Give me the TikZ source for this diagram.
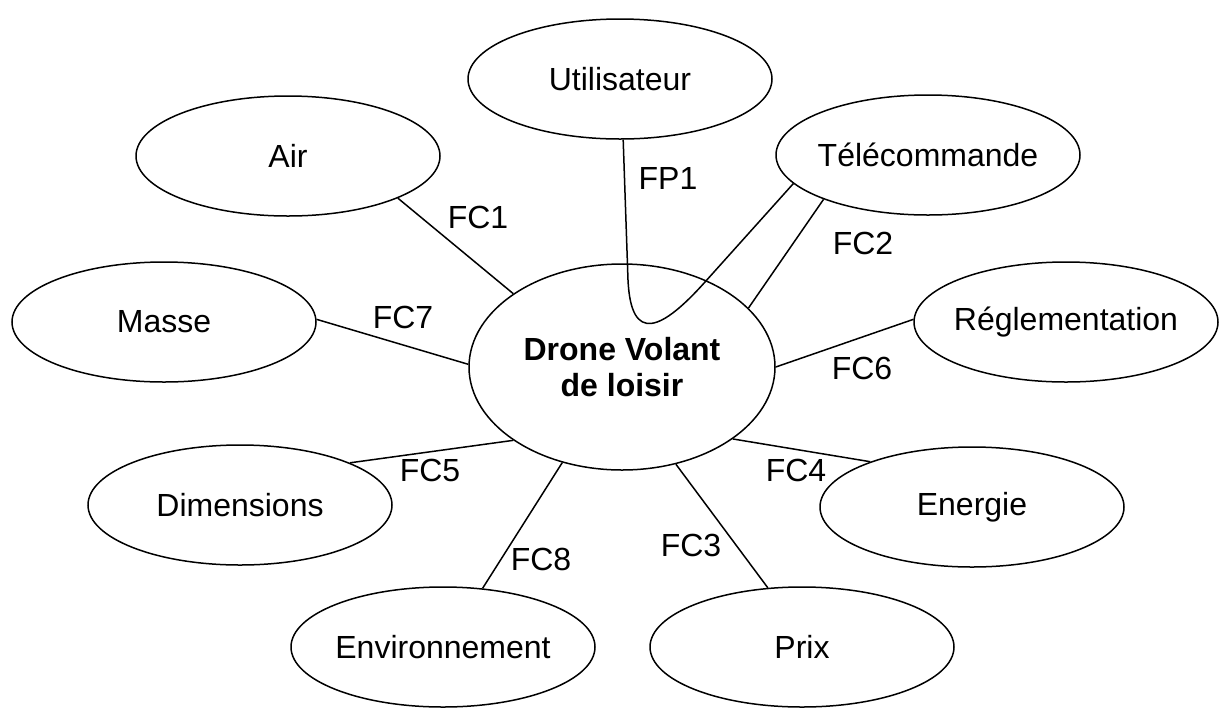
\documentclass[tikz,border=0pt]{standalone}
\usepackage{fontspec}
\setmainfont{Liberation Sans}
\usepackage{tikz}
\usetikzlibrary{shapes.geometric}
\colorlet{bubble edge}{black}
\tikzset{bubble/.style={ellipse, draw=bubble edge, line width=0.75pt, minimum width=152pt, minimum height=60pt,
		inner xsep=-10pt, inner ysep=0pt, font=\fontsize{16}{18}\selectfont},
	core/.style={bubble, minimum width=153pt, minimum height=103pt, align=center,
		font=\bfseries\fontsize{16}{18}\selectfont},
	link/.style={draw=bubble edge, line width=0.75pt},
	fclabel/.style={inner sep=0pt, font=\fontsize{16}{18}\selectfont}}

\begin{document}
\begin{tikzpicture}[x=0.5pt,y=-0.5pt]
		\useasboundingbox (0,0) rectangle (1221,713);
		\node[core] (drone) at (622,367) {Drone Volant\\de loisir};
		
		\node[bubble] (util) at (620,79) {Utilisateur};
		\node[bubble] (air) at (288,156) {Air};
		\node[bubble] (tele) at (928,155) {Télécommande};
		\node[bubble] (masse) at (164,322) {Masse};
		\node[bubble] (regl) at (1066,322) {Réglementation};
		\node[bubble] (dim) at (240,505) {Dimensions};
		\node[bubble] (energie) at (972,507) {Energie};
		\node[bubble] (env) at (443,647) {Environnement};
		\node[bubble] (prix) at (802,647) {Prix};
		
		\draw[link] (util.-87) -- (628,280) .. controls (631,345) and (662,330) .. (705,282) -- (tele.192);
		\draw[link] (air.-21) -- (drone.146);
		\draw[link] (tele.203) -- (drone.25);
		\draw[link] (prix.120) -- (drone.-61);
		\draw[link] (energie.156) -- (drone.-33);
		\draw[link] (dim.21) -- (drone.214);
		\draw[link] (regl.179) -- (drone.0);
		\draw[link] (masse.1) -- (drone.179);
		\draw[link] (env.56) -- (drone.238);
		
		\node[fclabel] (fp1) at (668,178) {FP1};
		\node[fclabel] (fc1) at (478,217) {FC1};
		\node[fclabel] (fc2) at (863,243) {FC2};
		\node[fclabel] (fc3) at (691,545) {FC3};
		\node[fclabel] (fc4) at (796,470) {FC4};
		\node[fclabel] (fc5) at (430,470) {FC5};
		\node[fclabel] (fc6) at (862,368) {FC6};
		\node[fclabel] (fc7) at (403,317) {FC7};
		\node[fclabel] (fc8) at (541,559) {FC8};
		\end{tikzpicture}
\end{document}
